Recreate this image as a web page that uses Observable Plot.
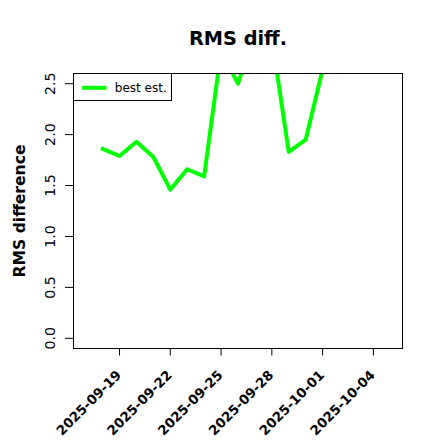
<!DOCTYPE html>
<html>
<head>
<meta charset="utf-8">
<script src="https://cdn.jsdelivr.net/npm/d3@7"></script>
<script src="https://cdn.jsdelivr.net/npm/@observablehq/plot@0.6"></script>
<style>
  html, body { margin: 0; padding: 0; background: white; }
</style>
</head>
<body>
<div id="chart"></div>
<script>
// ---- data ----
const dates = ["2025-09-18","2025-09-19","2025-09-20","2025-09-21","2025-09-22","2025-09-23","2025-09-24",
               "2025-09-25","2025-09-26","2025-09-27","2025-09-28","2025-09-29","2025-09-30","2025-10-01"];
const bestEst = [1.86, 1.79, 1.93, 1.78, 1.46, 1.66, 1.59, 2.82, 2.50, 3.00, 2.95, 1.83, 1.95, 2.64];
const xTickLabels = ["2025-09-19","2025-09-22","2025-09-25","2025-09-28","2025-10-01","2025-10-04"];
const yTickValues = [0, 0.5, 1, 1.5, 2, 2.5];
const xRangeDates = ["2025-09-17","2025-10-05"];
const yRange = [0, 2.5];
const title = "RMS diff.";
const yLabel = "RMS difference";
const legendLabel = "best est.";

const parse = d3.utcParse("%Y-%m-%d");
const fmt = d3.utcFormat("%Y-%m-%d");
const data = dates.map((d, i) => ({date: parse(d), value: bestEst[i]}));
const xTicks = xTickLabels.map(parse);

// R-style 4% axis extension
const x0 = +parse(xRangeDates[0]), x1 = +parse(xRangeDates[1]);
const xPad = (x1 - x0) * 0.04;
const yPad = (yRange[1] - yRange[0]) * 0.04;

const font = "DejaVu Sans";
const green = "#00ff00";

const chart = Plot.plot({
  width: 440,
  height: 440,
  marginLeft: 73,
  marginRight: 38,
  marginTop: 73,
  marginBottom: 92,
  style: {fontFamily: font, background: "white", color: "black", overflow: "visible"},
  x: {type: "utc", domain: [new Date(x0 - xPad), new Date(x1 + xPad)], axis: null},
  y: {domain: [yRange[0] - yPad, yRange[1] + yPad], axis: null},
  marks: [
    Plot.line(data, {x: "date", y: "value", stroke: green, strokeWidth: 4,
      strokeLinejoin: "round", strokeLinecap: "round", clip: true}),
    // axes ticks
    Plot.axisY(yTickValues, {anchor: "left", tickSize: 8, tickFormat: () => "", label: null, stroke: "black"}),
    Plot.axisX(xTicks, {anchor: "bottom", tickSize: 7.5, tickFormat: () => "", label: null, stroke: "black"}),
    // y tick labels, rotated
    Plot.text(yTickValues, {y: d => d, text: d => d.toFixed(1), frameAnchor: "left", dx: -18.5,
      rotate: -90, textAnchor: "middle", lineAnchor: "bottom", fontSize: 14.2, fill: "black"}),
    // x tick labels, rotated 45
    Plot.text(xTicks, {x: d => d, text: d => fmt(d), frameAnchor: "bottom", dx: 2.5, dy: 27.5,
      rotate: -45, textAnchor: "end", lineAnchor: "bottom", fontSize: 13.3, fontWeight: "bold", fill: "black"}),
    // y axis title
    Plot.text([yLabel], {text: d => d, frameAnchor: "left", dx: -49, rotate: -90,
      textAnchor: "middle", lineAnchor: "bottom", fontSize: 15.6, fontWeight: "bold", fill: "black"}),
    // chart title
    Plot.text([title], {text: d => d, frameAnchor: "top", dy: -29, lineAnchor: "bottom",
      fontSize: 19.3, fontWeight: "bold", fill: "black"}),
    Plot.frame({stroke: "black", strokeWidth: 1}),
    // legend box
    Plot.frame({fill: "white", stroke: "black", strokeWidth: 1, insetRight: 231, insetBottom: 248}),
    Plot.frame({fill: green, stroke: "none", insetLeft: 8.7, insetRight: 296, insetTop: 12.3, insetBottom: 258.7}),
    Plot.text([legendLabel], {text: d => d, frameAnchor: "top-left", dx: 41.3, dy: 14.3,
      textAnchor: "start", lineAnchor: "middle", fontSize: 12, fill: "black"})
  ]
});
document.getElementById("chart").appendChild(chart);
</script>
</body>
</html>
